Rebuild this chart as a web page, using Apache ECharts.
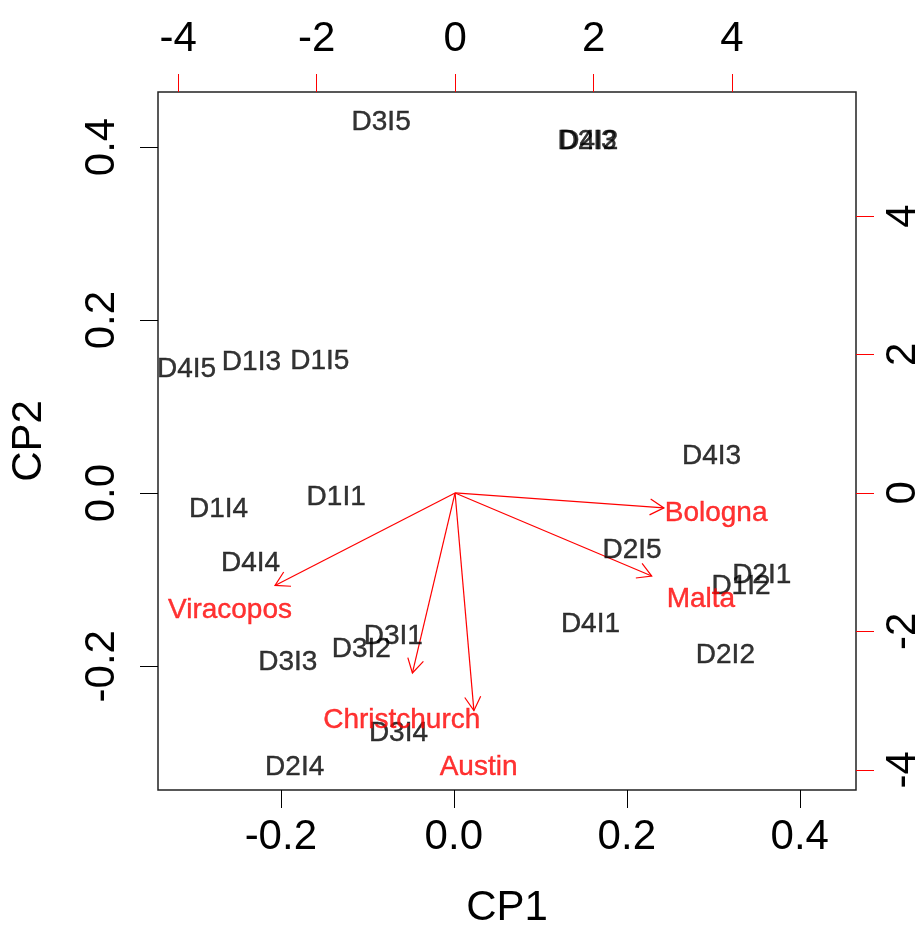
<!DOCTYPE html>
<html>
<head>
<meta charset="utf-8">
<title>CP biplot</title>
<script src="https://cdn.jsdelivr.net/npm/echarts/dist/echarts.min.js"></script>
<style>
  html, body { margin: 0; padding: 0; background: #fff; }
  #chart { width: 923px; height: 927px; }
</style>
</head>
<body>
<div id="chart"></div>
<script>
  // observation scores (CP1, CP2)
  var obsNames = ['D1I1', 'D1I2', 'D1I3', 'D1I4', 'D1I5',
                  'D2I1', 'D2I2', 'D2I3', 'D2I4', 'D2I5',
                  'D3I1', 'D3I2', 'D3I3', 'D3I4', 'D3I5',
                  'D4I1', 'D4I2', 'D4I3', 'D4I4', 'D4I5'];
  var obsCP1 = [-0.136, 0.332, -0.234, -0.272, -0.155,
                0.356, 0.314, 0.154, -0.184, 0.206,
                -0.070, -0.107, -0.192, -0.064, -0.084,
                0.158, 0.156, 0.298, -0.235, -0.309];
  var obsCP2 = [-0.003, -0.105, 0.153, -0.016, 0.155,
                -0.092, -0.185, 0.409, -0.314, -0.064,
                -0.163, -0.178, -0.193, -0.275, 0.431,
                -0.149, 0.409, 0.045, -0.079, 0.146];

  // variable loadings (top / right axes)
  var varNames = ['Bologna', 'Malta', 'Viracopos', 'Christchurch', 'Austin'];
  var varCP1 = [3.77, 3.55, -3.25, -0.77, 0.34];
  var varCP2 = [-0.27, -1.50, -1.67, -3.25, -3.93];
  var arrowScale = 0.8;

  // tick labels
  var scoreTicks = [-0.2, 0.0, 0.2, 0.4];
  var loadTicks = [-4, -2, 0, 2, 4];

  var FONT = 'Liberation Sans';

  var obsData = obsNames.map(function (n, i) {
    return { name: n, value: [obsCP1[i], obsCP2[i]] };
  });
  var varData = varNames.map(function (n, i) {
    return { name: n, value: [varCP1[i], varCP2[i]] };
  });

  function axisCommon(color, ticks, fmt, margin, rotate) {
    return {
      type: 'value',
      splitLine: { show: false },
      axisLine: { show: false, onZero: false },
      axisTick: { show: true, length: 18, customValues: ticks, lineStyle: { color: color, width: 1 } },
      axisLabel: {
        customValues: ticks,
        formatter: fmt,
        margin: margin,
        rotate: rotate,
        color: '#000',
        fontSize: 42,
        fontFamily: FONT
      }
    };
  }

  var fmtScore = function (v) { return Number(v).toFixed(1); };
  var fmtLoad = function (v) { return String(Math.round(v)); };

  var xBottom = axisCommon('#000', scoreTicks, fmtScore, 26, 0);
  xBottom.position = 'bottom';
  xBottom.min = -0.342; xBottom.max = 0.465;
  xBottom.name = 'CP1';
  xBottom.nameLocation = 'middle';
  xBottom.nameGap = 97;
  xBottom.nameTextStyle = { fontSize: 42, fontFamily: FONT, color: '#000' };

  var xTop = axisCommon('#ff0000', loadTicks, fmtLoad, 32, 0);
  xTop.position = 'top';
  xTop.min = -4.29; xTop.max = 5.79;

  var yLeft = axisCommon('#000', scoreTicks, fmtScore, 35, 90);
  yLeft.position = 'left';
  yLeft.min = -0.343; yLeft.max = 0.4636;
  yLeft.name = 'CP2';
  yLeft.nameLocation = 'middle';
  yLeft.nameGap = 108;
  yLeft.nameTextStyle = { fontSize: 42, fontFamily: FONT, color: '#000' };

  var yRight = axisCommon('#ff0000', loadTicks, fmtLoad, 26, 90);
  yRight.position = 'right';
  yRight.min = -4.29; yRight.max = 5.79;

  var chart = echarts.init(document.getElementById('chart'));
  chart.setOption({
    animation: false,
    backgroundColor: '#fff',
    grid: {
      left: 158, right: 67, top: 92, bottom: 137,
      outerBoundsMode: 'none',
      containLabel: false,
      show: true, borderColor: '#222', borderWidth: 1.5, backgroundColor: 'transparent'
    },
    xAxis: [xBottom, xTop],
    yAxis: [yLeft, yRight],
    series: [
      {
        name: 'scores',
        type: 'scatter',
        xAxisIndex: 0, yAxisIndex: 0,
        symbolSize: 0,
        itemStyle: { color: 'transparent' },
        label: {
          show: true,
          position: 'inside',
          offset: [0, 2],
          formatter: '{b}',
          color: '#000',
          textBorderColor: '#000',
          textBorderWidth: 0.4,
          fontSize: 28,
          fontFamily: FONT
        },
        data: obsData
      },
      {
        name: 'arrows',
        type: 'custom',
        xAxisIndex: 1, yAxisIndex: 1,
        renderItem: function (params, api) {
          var o = api.coord([0, 0]);
          var t = api.coord([api.value(0) * arrowScale, api.value(1) * arrowScale]);
          var ang = Math.atan2(t[1] - o[1], t[0] - o[0]);
          var h = 16, a = Math.PI / 6;
          var p1 = [t[0] - h * Math.cos(ang - a), t[1] - h * Math.sin(ang - a)];
          var p2 = [t[0] - h * Math.cos(ang + a), t[1] - h * Math.sin(ang + a)];
          return {
            type: 'group',
            children: [
              { type: 'line', shape: { x1: o[0], y1: o[1], x2: t[0], y2: t[1] },
                style: { stroke: '#ff0000', lineWidth: 1.2 } },
              { type: 'polyline', shape: { points: [p1, t, p2] },
                style: { stroke: '#ff0000', fill: null, lineWidth: 1.2 } }
            ]
          };
        },
        data: varData
      },
      {
        name: 'variables',
        type: 'scatter',
        xAxisIndex: 1, yAxisIndex: 1,
        symbolSize: 0,
        itemStyle: { color: 'transparent' },
        label: {
          show: true,
          position: 'inside',
          offset: [0, 2],
          formatter: '{b}',
          color: '#ff0000',
          textBorderColor: '#ff0000',
          textBorderWidth: 0.4,
          fontSize: 28,
          fontFamily: FONT
        },
        data: varData
      }
    ]
  });
</script>
</body>
</html>
